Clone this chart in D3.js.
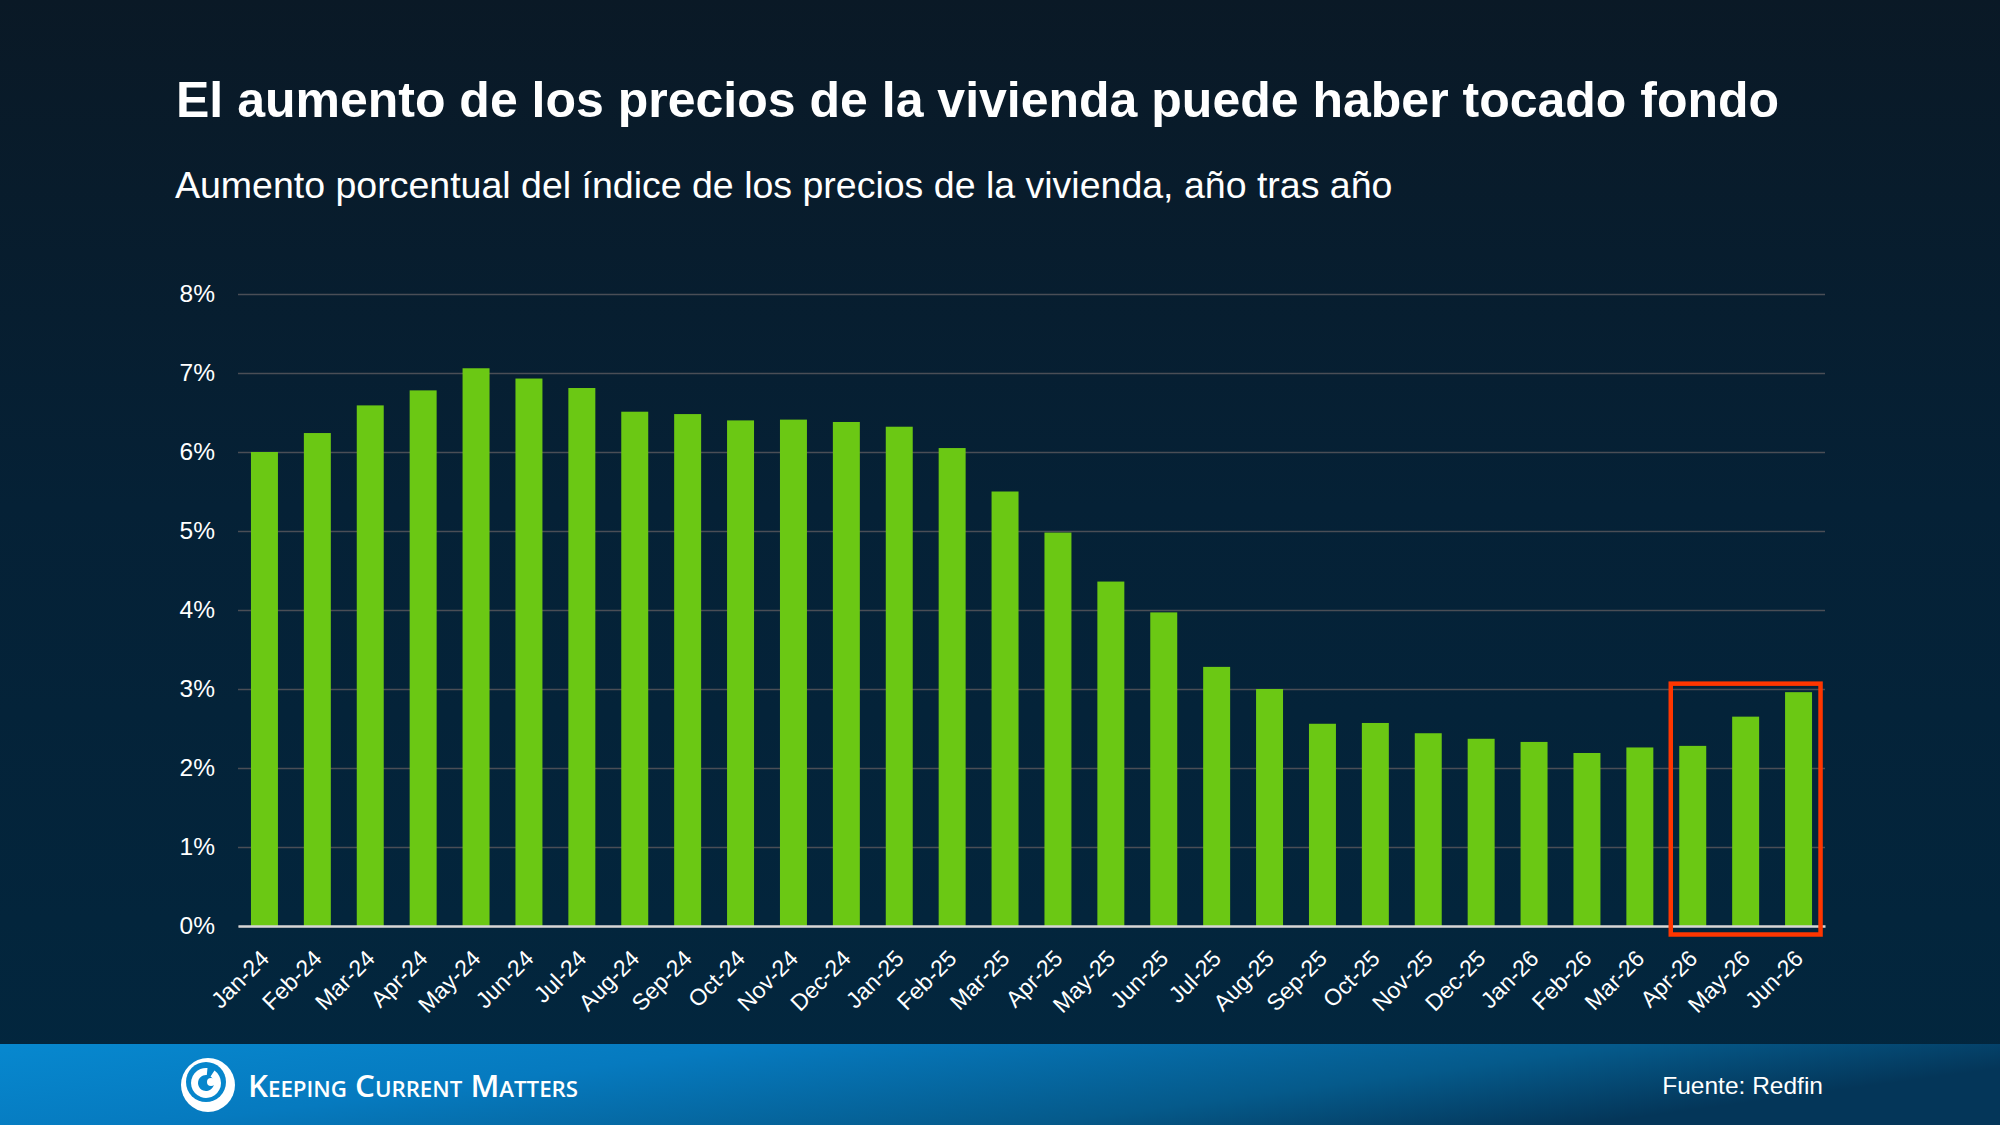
<!DOCTYPE html>
<html>
<head>
<meta charset="utf-8">
<script src="https://cdn.jsdelivr.net/npm/d3@7"></script>
<style>
  body { margin: 0; background: #06202f; }
  svg { display: block; }
  text { font-family: "Liberation Sans", Arial, sans-serif; }
</style>
</head>
<body>
<svg id="chart" width="2000" height="1125"></svg>
<script>
// data
var months = ["Jan-24", "Feb-24", "Mar-24", "Apr-24", "May-24", "Jun-24", "Jul-24", "Aug-24", "Sep-24", "Oct-24",
	"Nov-24", "Dec-24", "Jan-25", "Feb-25", "Mar-25", "Apr-25", "May-25", "Jun-25", "Jul-25", "Aug-25",
	"Sep-25", "Oct-25", "Nov-25", "Dec-25", "Jan-26", "Feb-26", "Mar-26", "Apr-26", "May-26", "Jun-26"];
var growth = [6.0, 6.24, 6.59, 6.78, 7.06, 6.93, 6.81, 6.51, 6.48, 6.40,
	6.41, 6.38, 6.32, 6.05, 5.50, 4.98, 4.36, 3.97, 3.28, 3.00,
	2.56, 2.57, 2.44, 2.37, 2.33, 2.19, 2.26, 2.28, 2.65, 2.96];
var yTicks = [0, 1, 2, 3, 4, 5, 6, 7, 8];
var highlighted = ["Apr-26", "May-26", "Jun-26"];

var title = "El aumento de los precios de la vivienda puede haber tocado fondo",
	subtitle = "Aumento porcentual del índice de los precios de la vivienda, año tras año",
	source = "Fuente: Redfin";

var width = 2000,
	height = 1125,
	plot = { left: 238, right: 1825, top: 294, bottom: 926 },
	footerTop = 1044;

var svg = d3.select("#chart");
var defs = svg.append("defs");

var bg = defs.append("linearGradient").attr("id", "bg")
	.attr("x1", 0).attr("y1", 0).attr("x2", 0).attr("y2", 1);
bg.append("stop").attr("offset", "0%").attr("stop-color", "#0a1926");
bg.append("stop").attr("offset", "45%").attr("stop-color", "#052136");
bg.append("stop").attr("offset", "100%").attr("stop-color", "#02273f");

var foot = defs.append("linearGradient").attr("id", "foot")
	.attr("x1", 0).attr("y1", 0).attr("x2", 1).attr("y2", 0.3);
foot.append("stop").attr("offset", "0%").attr("stop-color", "#0788cf");
foot.append("stop").attr("offset", "35%").attr("stop-color", "#067abf");
foot.append("stop").attr("offset", "75%").attr("stop-color", "#055a8b");
foot.append("stop").attr("offset", "100%").attr("stop-color", "#043659");

svg.append("rect").attr("width", width).attr("height", height).attr("fill", "url(#bg)");

// titles
svg.append("text")
	.attr("x", 176).attr("y", 117)
	.attr("fill", "#fff")
	.style("font-size", "50px")
	.style("font-weight", "bold")
	.text(title);

svg.append("text")
	.attr("x", 175).attr("y", 198)
	.attr("fill", "#fff")
	.style("font-size", "37.5px")
	.text(subtitle);

// scales
var x = d3.scaleBand()
	.domain(months)
	.range([plot.left, plot.right])
	.paddingInner(0.49)
	.paddingOuter(0.245);

var y = d3.scaleLinear()
	.domain([0, 8])
	.range([plot.bottom, plot.top]);

// y axis + gridlines
var yAxis = svg.append("g")
	.attr("transform", "translate(" + plot.left + ",0)")
	.call(d3.axisLeft(y)
		.tickValues(yTicks)
		.tickSize(-(plot.right - plot.left))
		.tickPadding(23)
		.tickFormat(function (d) { return d + "%"; }));
yAxis.select(".domain").remove();
yAxis.selectAll(".tick line")
	.attr("stroke", "#4a4e56")
	.attr("stroke-width", 1.5);
yAxis.selectAll(".tick text")
	.attr("fill", "#fff")
	.style("font-size", "24.5px")
	.style("font-family", "\"Liberation Sans\", Arial, sans-serif");

// bars
svg.append("g").selectAll("rect")
	.data(growth)
	.enter()
	.append("rect")
	.attr("x", function (d, i) { return x(months[i]); })
	.attr("y", function (d) { return y(d); })
	.attr("width", x.bandwidth())
	.attr("height", function (d) { return y(0) - y(d); })
	.attr("fill", "#6bc814");

// x axis
var xAxis = svg.append("g")
	.attr("transform", "translate(0," + plot.bottom + ")")
	.call(d3.axisBottom(x).tickSize(0).tickPadding(0));
xAxis.select(".domain")
	.attr("stroke", "#d6d6d6")
	.attr("stroke-width", 2.5);
xAxis.selectAll(".tick text")
	.attr("fill", "#fff")
	.style("font-size", "23px")
	.style("font-family", "\"Liberation Sans\", Arial, sans-serif")
	.attr("text-anchor", "end")
	.attr("dy", 0)
	.attr("transform", "translate(6,34) rotate(-45)");

// highlight box round the last three months
var first = highlighted[0],
	last = highlighted[highlighted.length - 1],
	pad = 8.5,
	boxTop = d3.max(highlighted, function (m) { return growth[months.indexOf(m)]; });
svg.append("rect")
	.attr("x", x(first) - pad)
	.attr("y", y(boxTop) - pad)
	.attr("width", x(last) + x.bandwidth() - x(first) + 2 * pad)
	.attr("height", y(0) - y(boxTop) + 2 * pad)
	.attr("fill", "none")
	.attr("stroke", "#ff3600")
	.attr("stroke-width", 4.5);

// footer
svg.append("rect")
	.attr("x", 0).attr("y", footerTop)
	.attr("width", width).attr("height", height - footerTop)
	.attr("fill", "url(#foot)");

var logo = svg.append("g").attr("transform", "translate(208,1085)");
logo.append("circle").attr("r", 27).attr("fill", "#fff");
logo.append("circle").attr("cx", -2).attr("cy", -3).attr("r", 20).attr("fill", "#0786cc");
logo.append("path")
	.attr("d", d3.arc()({ innerRadius: 8, outerRadius: 15, startAngle: 0.6, endAngle: 2 * Math.PI + 0.1 }))
	.attr("transform", "translate(-2,-2)")
	.attr("fill", "#fff");
logo.append("circle").attr("cx", 3).attr("cy", -3).attr("r", 4).attr("fill", "#fff");

svg.append("text")
	.attr("x", 248).attr("y", 1097)
	.attr("fill", "#fff")
	.attr("textLength", 330)
	.attr("lengthAdjust", "spacingAndGlyphs")
	.style("font-family", "\"Open Sans\", sans-serif")
	.style("font-weight", 600)
	.style("font-variant", "small-caps")
	.style("font-size", "31px")
	.text("Keeping Current Matters");

svg.append("text")
	.attr("x", plot.right - 2).attr("y", 1094)
	.attr("text-anchor", "end")
	.attr("fill", "#fff")
	.style("font-size", "24.5px")
	.text(source);
</script>
</body>
</html>
